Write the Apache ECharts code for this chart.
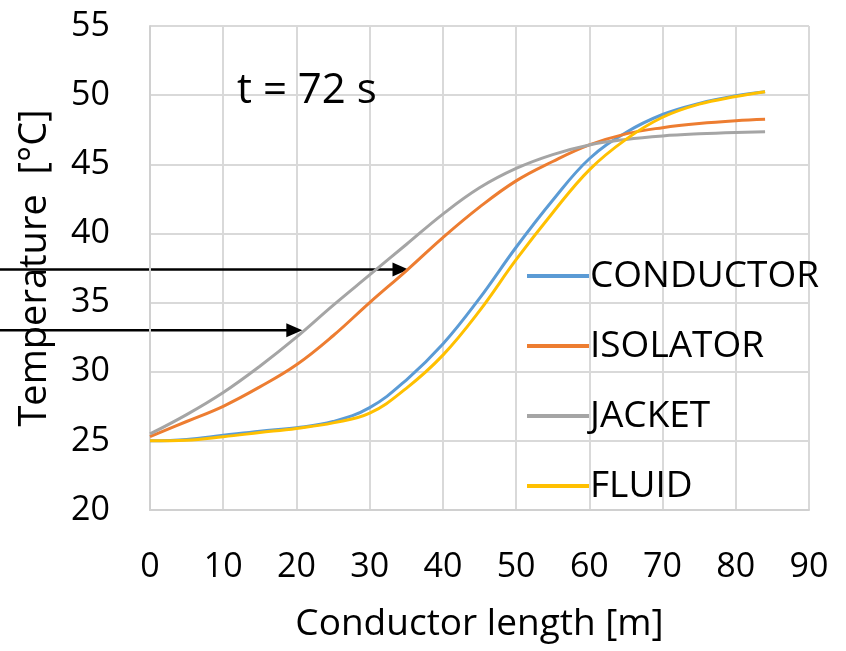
<!DOCTYPE html>
<html>
<head>
	<meta charset="utf-8">
	<title>Temperature along conductor</title>
	<script src="https://cdn.jsdelivr.net/npm/echarts@6/dist/echarts.min.js"></script>
	<style>
		html, body { margin: 0; padding: 0; background: #fff; }
		#main { width: 846px; height: 651px; }
	</style>
</head>
<body>
<div id="main"></div>
<script type="text/javascript">
// 数据
var lengths   = [0, 5, 10, 15, 20, 25, 30, 35, 40, 45, 50, 55, 60, 65, 70, 75, 80, 84];
var conductor = [25.0, 25.1, 25.4, 25.7, 25.95, 26.4, 27.4, 29.4, 32.0, 35.3, 39.0, 42.4, 45.4, 47.3, 48.6, 49.4, 49.95, 50.25];
var isolator  = [25.3, 26.4, 27.5, 28.9, 30.5, 32.6, 35.0, 37.3, 39.7, 41.9, 43.8, 45.2, 46.4, 47.2, 47.65, 47.95, 48.15, 48.25];
var jacket    = [25.5, 26.9, 28.5, 30.4, 32.5, 34.8, 37.0, 39.2, 41.4, 43.3, 44.7, 45.7, 46.4, 46.8, 47.05, 47.2, 47.3, 47.35];
var fluid     = [25.0, 25.05, 25.3, 25.6, 25.9, 26.3, 27.0, 28.8, 31.2, 34.4, 38.1, 41.5, 44.6, 46.8, 48.4, 49.35, 49.9, 50.25];
var seriesNames = ['CONDUCTOR', 'ISOLATOR', 'JACKET', 'FLUID'];
// arrow tips (data coords)
var arrowTips = [[35.3, 37.4], [20.8, 33.0]];

var font = 'Open Sans';
var myChart = echarts.init(document.getElementById('main'));

function pairs(ys) {
    return lengths.map(function (x, i) { return [x, ys[i]]; });
}

function lineSeries(name, ys, color) {
    return {
        name: name,
        type: 'line',
        data: pairs(ys),
        smooth: 0.4,
        showSymbol: false,
        symbol: 'none',
        lineStyle: { color: color, width: 3 },
        itemStyle: { color: color }
    };
}

var option = {
    animation: false,
    grid: { left: 150, right: 37, top: 26, bottom: 141, containLabel: false },
    legend: {
        orient: 'vertical',
        left: 522,
        top: 251,
        icon: 'rect',
        itemWidth: 62,
        itemHeight: 4,
        itemGap: 30,
        data: seriesNames,
        textStyle: { fontFamily: font, fontSize: 37, color: '#000', lineHeight: 40, padding: [0, 0, 0, -4] }
    },
    xAxis: {
        type: 'value',
        min: 0, max: 90, interval: 10,
        name: 'Conductor length [m]',
        nameLocation: 'middle',
        nameGap: 96,
        nameTextStyle: { fontFamily: font, fontSize: 37, color: '#000' },
        axisLine: { show: true, lineStyle: { color: '#d0d0d0', width: 2 } },
        axisTick: { show: false },
        axisLabel: { fontFamily: font, fontSize: 34, color: '#000', margin: 40 },
        splitLine: { show: true, lineStyle: { color: '#d9d9d9', width: 2 } }
    },
    yAxis: {
        type: 'value',
        min: 20, max: 55, interval: 5,
        name: 'Temperature  [°C]',
        nameLocation: 'middle',
        nameGap: 96,
        nameTextStyle: { fontFamily: font, fontSize: 38, color: '#000' },
        axisLine: { show: true, lineStyle: { color: '#d0d0d0', width: 2 } },
        axisTick: { show: false },
        axisLabel: { fontFamily: font, fontSize: 34, color: '#000', margin: 40 },
        splitLine: { show: true, lineStyle: { color: '#d9d9d9', width: 2 } }
    },
    series: [
        lineSeries('CONDUCTOR', conductor, '#5B9BD5'),
        lineSeries('ISOLATOR', isolator, '#ED7D31'),
        lineSeries('JACKET', jacket, '#A5A5A5'),
        lineSeries('FLUID', fluid, '#FFC000')
    ]
};

myChart.setOption(option);

// 注释: 文字和箭头
var graphics = [{
    type: 'text',
    left: 237,
    top: 70,
    style: { text: 't = 72 s', fontFamily: font, fontSize: 42, fill: '#000' }
}];
arrowTips.forEach(function (tip) {
    var p = myChart.convertToPixel({ gridIndex: 0 }, tip);
    graphics.push({
        type: 'line',
        shape: { x1: 0, y1: p[1], x2: p[0] - 14, y2: p[1] },
        style: { stroke: '#000', lineWidth: 2.5 }
    });
    graphics.push({
        type: 'polygon',
        shape: { points: [[p[0], p[1]], [p[0] - 16, p[1] - 7], [p[0] - 16, p[1] + 7]] },
        style: { fill: '#000' }
    });
});
myChart.setOption({ graphic: graphics });
</script>
</body>
</html>
